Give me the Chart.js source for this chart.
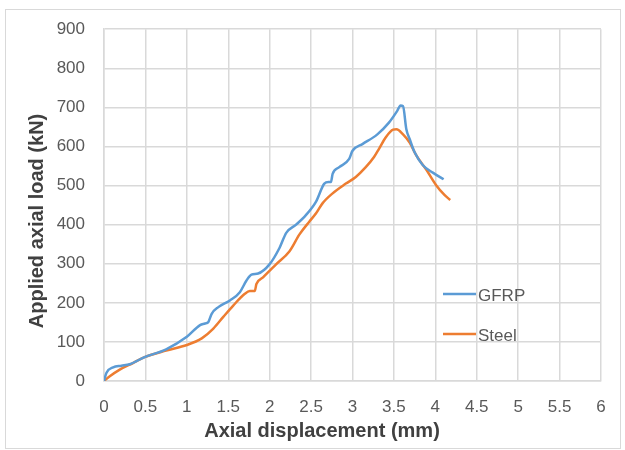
<!DOCTYPE html>
<html>
<head>
<meta charset="utf-8">
<script src="https://cdn.jsdelivr.net/npm/chart.js@4"></script>
<style>
  body { margin: 0; background: #fff; }
  #wrap { position: relative; width: 625px; height: 450px; }
  #frame { position: absolute; left: 5px; top: 9px; width: 614px; height: 438px; border: 1px solid #d9d9d9; }
  canvas { position: absolute; left: 0; top: 0; }
</style>
</head>
<body>
<div id="wrap">
  <div id="frame"></div>
  <canvas id="myChart" width="625" height="450"></canvas>
</div>
<script>
  // displacement (mm) / load (kN)
  const gfrpX = [0, 0.03, 0.11, 0.21, 0.31, 0.49, 0.75, 1.0, 1.16, 1.22, 1.26, 1.30, 1.38, 1.52, 1.64, 1.72, 1.78, 1.86, 2.0, 2.12, 2.20, 2.32, 2.44, 2.56, 2.66, 2.71, 2.74, 2.76, 2.84, 2.96, 3.0, 3.12, 3.30, 3.44, 3.54, 3.58, 3.61, 3.65, 3.69, 3.75, 3.85, 3.97, 4.10];
  const gfrpY = [0, 21, 35, 39, 43, 61, 81, 113, 143, 147, 151, 172, 189, 206, 227, 257, 272, 275, 299, 341, 379, 400, 425, 459, 505, 509, 509, 530, 547, 568, 589, 606, 631, 661, 691, 705, 703, 644, 619, 585, 552, 533, 516];

  const steelX = [0, 0.07, 0.19, 0.35, 0.49, 0.75, 1.0, 1.18, 1.32, 1.44, 1.56, 1.70, 1.76, 1.82, 1.84, 1.92, 2.08, 2.24, 2.36, 2.48, 2.56, 2.64, 2.76, 2.92, 3.04, 3.16, 3.26, 3.32, 3.40, 3.49, 3.53, 3.61, 3.69, 3.77, 3.89, 4.01, 4.11, 4.18];
  const steelY = [0, 12, 29, 46, 61, 78, 92, 109, 134, 164, 193, 223, 230, 230, 248, 265, 299, 332, 375, 408, 429, 455, 480, 505, 522, 547, 573, 594, 623, 643, 644, 631, 610, 577, 541, 501, 476, 463];

  const xTickLabels = ['0', '0.5', '1', '1.5', '2', '2.5', '3', '3.5', '4', '4.5', '5', '5.5', '6'];
  const yTickLabels = ['0', '100', '200', '300', '400', '500', '600', '700', '800', '900'];

  const xTitle = 'Axial displacement (mm)';
  const yTitle = 'Applied axial load (kN)';

  function toPoints(xs, ys) {
    return xs.map((x, i) => ({ x: x, y: ys[i] }));
  }

  const FONT = "'Liberation Sans', Arial, sans-serif";

  // axis titles + legend drawn inside the plot like the original
  const extras = {
    id: 'extras',
    afterDraw(chart) {
      const ctx = chart.ctx;
      ctx.save();
      ctx.fillStyle = '#404040';
      ctx.font = 'bold 20px ' + FONT;
      ctx.textAlign = 'center';
      ctx.textBaseline = 'middle';
      ctx.fillText(xTitle, 322, 431);
      ctx.translate(37, 221);
      ctx.rotate(-Math.PI / 2);
      ctx.fillText(yTitle, 0, 0);
      ctx.restore();

      ctx.save();
      ctx.font = '17px ' + FONT;
      ctx.textAlign = 'left';
      ctx.textBaseline = 'middle';
      const rows = [294, 334];
      chart.data.datasets.forEach((ds, i) => {
        ctx.strokeStyle = ds.borderColor;
        ctx.lineWidth = 2.5;
        ctx.beginPath();
        ctx.moveTo(443, rows[i]);
        ctx.lineTo(476, rows[i]);
        ctx.stroke();
        ctx.fillStyle = '#595959';
        ctx.fillText(ds.label, 478, rows[i] + 2);
      });
      ctx.restore();
    }
  };

  const data = {
    datasets: [{
      label: 'GFRP',
      data: toPoints(gfrpX, gfrpY),
      borderColor: '#5B9BD5',
      borderWidth: 2.5,
      pointRadius: 0,
      cubicInterpolationMode: 'monotone',
      fill: false
    }, {
      label: 'Steel',
      data: toPoints(steelX, steelY),
      borderColor: '#ED7D31',
      borderWidth: 2.5,
      pointRadius: 0,
      cubicInterpolationMode: 'monotone',
      fill: false
    }]
  };

  const config = {
    type: 'line',
    data,
    options: {
      responsive: false,
      animation: false,
      layout: { padding: { top: 25, right: 24, left: 0, bottom: 0 } },
      plugins: { legend: { display: false }, tooltip: { enabled: false } },
      scales: {
        x: {
          type: 'linear',
          min: 0,
          max: 6,
          afterFit(scale) { scale.height = 69; },
          afterBuildTicks(scale) {
            scale.ticks = xTickLabels.map(v => ({ value: parseFloat(v) }));
          },
          ticks: {
            padding: 16,
            color: '#595959',
            font: { family: FONT, size: 17 },
            maxRotation: 0,
            autoSkip: false,
            callback: (v, i) => xTickLabels[i]
          },
          grid: { color: '#d9d9d9', lineWidth: 1.5, drawTicks: false },
          border: { color: '#d9d9d9', width: 1.5 }
        },
        y: {
          min: 0,
          max: 900,
          afterFit(scale) { scale.width = 104; },
          afterBuildTicks(scale) {
            scale.ticks = yTickLabels.map(v => ({ value: parseFloat(v) }));
          },
          ticks: {
            padding: 19,
            color: '#595959',
            font: { family: FONT, size: 17 },
            autoSkip: false,
            callback: (v, i) => yTickLabels[i]
          },
          grid: { color: '#d9d9d9', lineWidth: 1.5, drawTicks: false },
          border: { color: '#d9d9d9', width: 1.5 }
        }
      }
    },
    plugins: [extras]
  };

  var myChart = new Chart(document.getElementById('myChart'), config);
</script>
</body>
</html>
